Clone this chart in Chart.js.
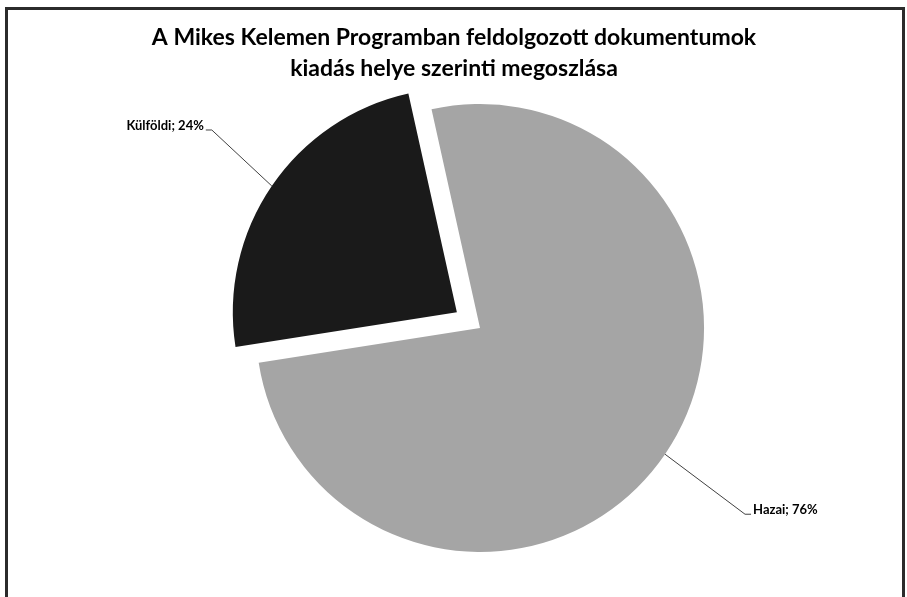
<!DOCTYPE html>
<html>
<head>
<meta charset="utf-8">
<script src="https://cdn.jsdelivr.net/npm/chart.js@4"></script>
<style>
  html, body { margin: 0; padding: 0; background: #fff; }
  #wrap { position: relative; width: 907px; height: 597px; }
</style>
</head>
<body>
<div id="wrap"><canvas id="pie"></canvas></div>
<script>
const titleLines = ["A Mikes Kelemen Programban feldolgozott dokumentumok", "kiadás helye szerinti megoszlása"];
const categories = ["Hazai", "Külföldi"];
const shares = [76, 24];
const sliceColors = ["#a5a5a5", "#1a1a1a"];
const explode = [0, 28];      // px the slice is pulled out
// leader line: from the arc edge to the elbow next to the label
const leaderDx = [80, -60];
const leaderDy = [60, -56];

const FONT = "Lato, 'Liberation Sans', sans-serif";

// frame + title (title is centred on the whole frame, not on the pie)
const framePlugin = {
  id: "frame",
  beforeDraw(chart) {
    const ctx = chart.ctx;
    ctx.save();
    ctx.strokeStyle = "#2b2b2b";
    ctx.lineWidth = 3;
    ctx.beginPath();
    ctx.moveTo(6.5, 620);
    ctx.lineTo(6.5, 8.5);
    ctx.lineTo(903.5, 8.5);
    ctx.lineTo(903.5, 620);
    ctx.stroke();

    ctx.fillStyle = "#000";
    ctx.font = "bold 23px " + FONT;
    ctx.textAlign = "center";
    ctx.textBaseline = "middle";
    titleLines.forEach((line, i) => ctx.fillText(line, 454, 38 + i * 31));
    ctx.restore();
  }
};

// "Name; xx%" labels with leader lines
const labelPlugin = {
  id: "pieLabels",
  afterDatasetsDraw(chart) {
    const ctx = chart.ctx;
    const meta = chart.getDatasetMeta(0);
    const total = shares.reduce((a, b) => a + b, 0);
    ctx.save();
    ctx.font = "bold 13px " + FONT;
    ctx.fillStyle = "#000";
    ctx.strokeStyle = "#404040";
    ctx.lineWidth = 1;
    meta.data.forEach((arc, i) => {
      const p = arc.getProps(["x", "y", "startAngle", "endAngle", "outerRadius"], true);
      const mid = (p.startAngle + p.endAngle) / 2;
      const cx = p.x + Math.cos(mid) * explode[i];
      const cy = p.y + Math.sin(mid) * explode[i];
      const ax = cx + Math.cos(mid) * p.outerRadius;
      const ay = cy + Math.sin(mid) * p.outerRadius;
      const ex = ax + leaderDx[i];
      const ey = ay + leaderDy[i];
      const dir = leaderDx[i] >= 0 ? 1 : -1;
      const tx = ex + dir * 6;
      ctx.beginPath();
      ctx.moveTo(ax, ay);
      ctx.lineTo(ex, ey);
      ctx.lineTo(tx, ey);
      ctx.stroke();
      const txt = categories[i] + "; " + Math.round(shares[i] / total * 100) + "%";
      ctx.textAlign = dir > 0 ? "left" : "right";
      ctx.textBaseline = "alphabetic";
      ctx.fillText(txt, tx + dir * 2, ey);
    });
    ctx.restore();
  }
};

new Chart(document.getElementById("pie"), {
  type: "pie",
  data: {
    labels: categories,
    datasets: [{
      data: shares,
      backgroundColor: sliceColors,
      borderWidth: 0,
      offset: explode.map(v => v * 4)   // ArcElement draws offset / 4
    }]
  },
  options: {
    responsive: true,
    maintainAspectRatio: false,
    animation: false,
    rotation: -12.5,
    radius: 224,
    layout: { padding: { left: 53, right: 0, top: 90, bottom: 31 } },
    plugins: {
      legend: { display: false },
      tooltip: { enabled: false },
      title: { display: false }
    }
  },
  plugins: [framePlugin, labelPlugin]
});
</script>
</body>
</html>
